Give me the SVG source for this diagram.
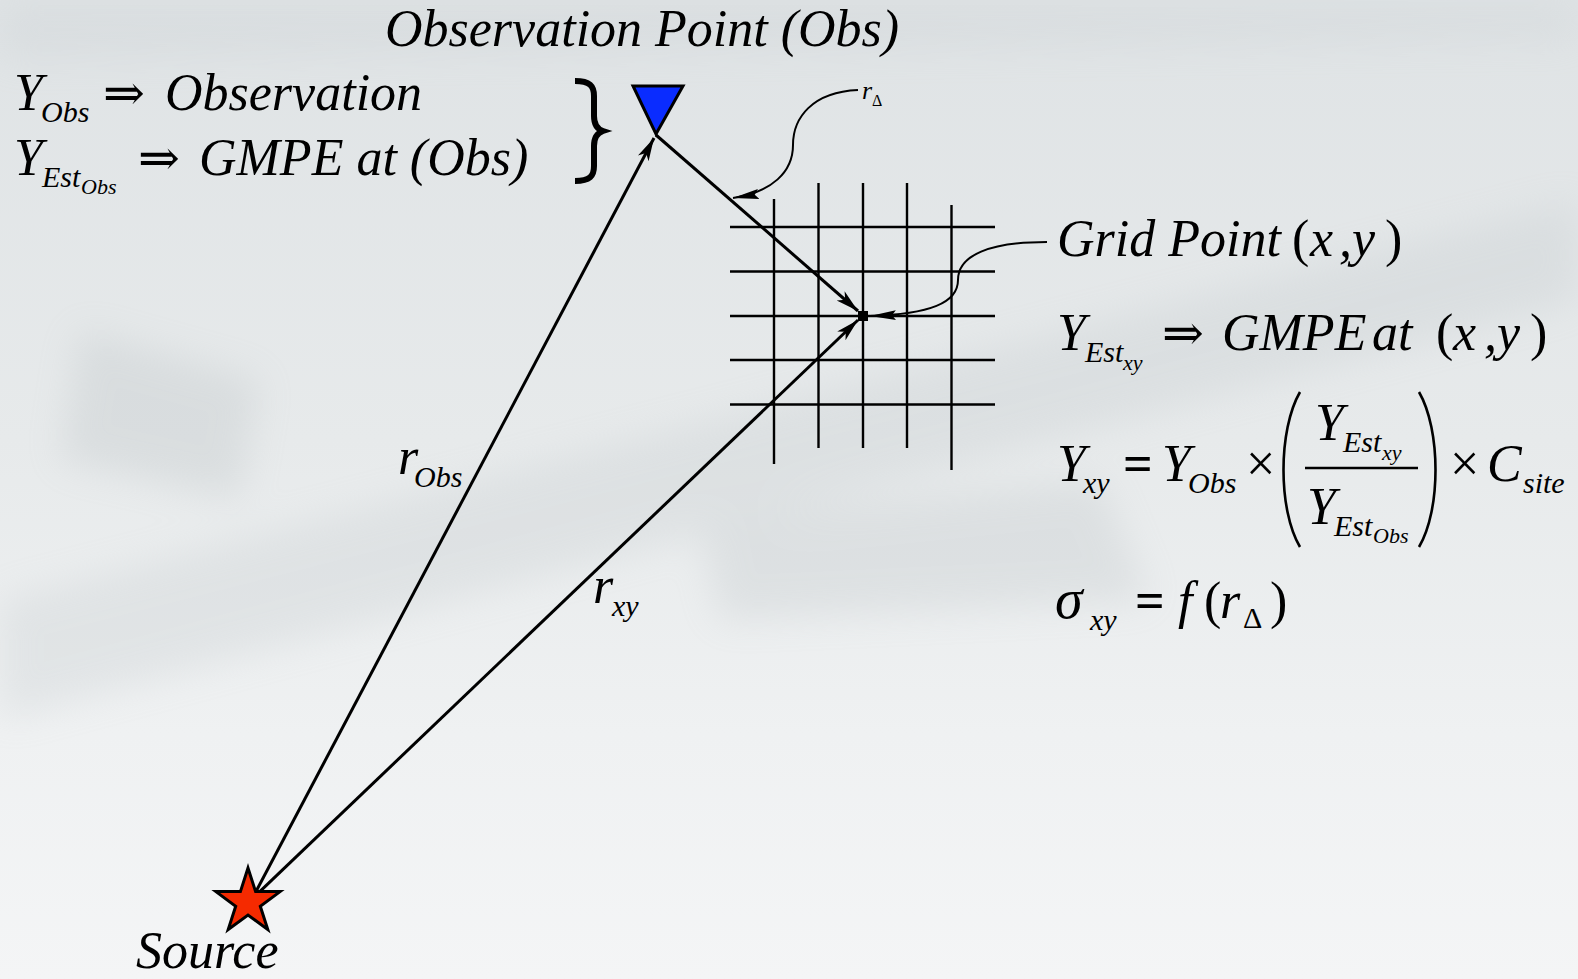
<svg xmlns="http://www.w3.org/2000/svg" width="1578" height="979" viewBox="0 0 1578 979">
<defs>
<linearGradient id="bg" x1="0" y1="0" x2="0" y2="1">
<stop offset="0" stop-color="#dfe3e5"/>
<stop offset="0.45" stop-color="#e7eaeb"/>
<stop offset="0.75" stop-color="#eff1f2"/>
<stop offset="1" stop-color="#f4f5f6"/>
</linearGradient>
<filter id="blur" x="-20%" y="-20%" width="140%" height="140%"><feGaussianBlur stdDeviation="18"/></filter>
<marker id="arr" markerUnits="userSpaceOnUse" markerWidth="26" markerHeight="16" refX="23" refY="8" orient="auto">
<path d="M0,2 L23,8 L0,14 L6,8 Z" fill="#000"/>
</marker>
<marker id="dart" markerUnits="userSpaceOnUse" markerWidth="28" markerHeight="14" refX="26" refY="7" orient="auto">
<path d="M0,2 L26,7 L0,12 L4,7 Z" fill="#000"/>
</marker>
<style>
.t{font-family:"Liberation Serif","DejaVu Serif",serif;font-style:italic;fill:#000}
.m{font-size:52px}
.s{font-size:30px}
.ss{font-size:22px}
.up{font-style:normal}
.ar{font-family:"DejaVu Serif",serif;font-style:normal;font-size:50px}
.eq{font-style:normal;font-weight:bold}
.ln{stroke:#000;stroke-width:3;fill:none}
.gr{stroke:#000;stroke-width:2.4;fill:none}
.ld{stroke:#000;stroke-width:2;fill:none}
</style>
</defs>
<g id="background">
<rect width="1578" height="979" fill="url(#bg)"/>
<g filter="url(#blur)" opacity="0.22">
<path d="M0,600 L1578,200 L1578,300 L0,720 Z" fill="#b8bfc3"/>
<path d="M80,330 L260,380 L240,500 L60,460 Z" fill="#aab2b6"/>
<path d="M700,520 L1100,480 L1150,600 L720,620 Z" fill="#aeb6ba"/>
<path d="M0,0 L1578,0 L1578,40 L0,60 Z" fill="#c4cacd"/>
</g>
</g>
<g id="grid">
<line class="gr" x1="774" y1="199" x2="774" y2="464"/>
<line class="gr" x1="818.5" y1="183" x2="818.5" y2="448"/>
<line class="gr" x1="863" y1="183" x2="863" y2="448"/>
<line class="gr" x1="907" y1="183" x2="907" y2="448"/>
<line class="gr" x1="951.5" y1="205" x2="951.5" y2="470"/>
<line class="gr" x1="730" y1="227" x2="995" y2="227"/>
<line class="gr" x1="730" y1="271.5" x2="995" y2="271.5"/>
<line class="gr" x1="730" y1="316" x2="995" y2="316"/>
<line class="gr" x1="730" y1="360" x2="995" y2="360"/>
<line class="gr" x1="730" y1="404.5" x2="995" y2="404.5"/>
</g>
<g id="connectors">
<path class="ln" d="M252,899 L654,138" marker-end="url(#arr)"/>
<path class="ln" d="M252,899 L858,320" marker-end="url(#arr)"/>
<path class="ln" d="M656,135 L858,311" marker-end="url(#arr)"/>
<path class="ld" d="M858,90 C812,92 793,118 793,145 C793,172 772,192 733,198" marker-end="url(#dart)"/>
<path class="ld" d="M1047,242 C990,242 958,255 958,280 C958,303 930,314 870,316" marker-end="url(#dart)"/>
</g>
<g id="grid-point">
<rect x="858" y="311" width="10" height="10" fill="#000"/>
</g>
<g id="observation-point">
<polygon points="633,86 683,86 656,134" fill="#0a2cff" stroke="#000" stroke-width="3" stroke-linejoin="miter"/>
<text class="t m" x="385" y="46">Observation Point (Obs)</text>
</g>
<g id="source">
<polygon points="248,868 255.6,891.6 280.1,891.6 260.3,906.2 267.8,929.5 248,915 228.2,929.5 235.7,906.2 215.9,891.6 240.4,891.6" fill="#f52a00" stroke="#000" stroke-width="3" stroke-linejoin="miter"/>
<text class="t m" x="136" y="968">Source</text>
</g>
<g id="legend">
<text class="t m" x="14" y="110">Y</text>
<text class="t s" x="41" y="122">Obs</text>
<text class="ar" x="103" y="110">⇒</text>
<text class="t m" x="165" y="110">Observation</text>
<text class="t m" x="14" y="175">Y</text>
<text class="t s" x="42" y="187">Est</text>
<text class="t ss" x="81" y="194">Obs</text>
<text class="ar" x="138" y="175">⇒</text>
<text class="t m" x="199" y="175">GMPE at (Obs)</text>
<path d="M575,81 C590,81 594,86 594,96 L594,116 C594,124 597,129 603,131 C597,133 594,138 594,146 L594,166 C594,176 590,181 575,181" fill="none" stroke="#000" stroke-width="6"/>
</g>
<g id="distance-labels">
<text class="t m" x="398" y="474">r</text>
<text class="t s" x="414" y="487">Obs</text>
<text class="t m" x="593" y="603">r</text>
<text class="t s" x="612" y="616">xy</text>
<text class="t" style="font-size:26px" x="862" y="99">r</text>
<text class="t up" style="font-size:16px" x="872" y="106">Δ</text>
</g>
<g id="equations">
<text class="t m" x="1057" y="256">Grid Point</text>
<text class="t m up" x="1292" y="256">(</text>
<text class="t m" x="1310" y="256">x</text>
<text class="t m" x="1339" y="256">,</text>
<text class="t m" x="1352" y="256">y</text>
<text class="t m up" x="1385" y="256">)</text>

<text class="t m" x="1057" y="350">Y</text>
<text class="t s" x="1085" y="362">Est</text>
<text class="t ss" x="1123" y="370">xy</text>
<text class="ar" x="1162" y="350">⇒</text>
<text class="t m" x="1222" y="350">GMPE</text>
<text class="t m" x="1372" y="350">at</text>
<text class="t m up" x="1436" y="350">(</text>
<text class="t m" x="1453" y="350">x</text>
<text class="t m" x="1484" y="350">,</text>
<text class="t m" x="1497" y="350">y</text>
<text class="t m up" x="1530" y="350">)</text>

<text class="t m" x="1057" y="481">Y</text>
<text class="t s" x="1083" y="493">xy</text>
<text class="t m eq" x="1123" y="481">=</text>
<text class="t m" x="1162" y="481">Y</text>
<text class="t s" x="1188" y="493">Obs</text>
<text class="t m up" x="1246" y="481">×</text>
<path d="M1300,392 C1278,430 1278,510 1300,547" fill="none" stroke="#000" stroke-width="2.6"/>
<text class="t m" x="1315" y="440">Y</text>
<text class="t s" x="1343" y="452">Est</text>
<text class="t ss" x="1382" y="460">xy</text>
<line x1="1305" y1="468" x2="1418" y2="468" stroke="#000" stroke-width="2.4"/>
<text class="t m" x="1307" y="524">Y</text>
<text class="t s" x="1334" y="536">Est</text>
<text class="t ss" x="1373" y="543">Obs</text>
<path d="M1419,392 C1441,430 1441,510 1419,547" fill="none" stroke="#000" stroke-width="2.6"/>
<text class="t m up" x="1450" y="481">×</text>
<text class="t m" x="1487" y="481">C</text>
<text class="t s" x="1523" y="493">site</text>

<text class="t m" style="font-size:56px" x="1055" y="618">σ</text>
<text class="t s" x="1090" y="630">xy</text>
<text class="t m eq" x="1135" y="618">=</text>
<text class="t m" x="1178" y="618">f</text>
<text class="t m up" x="1204" y="618">(</text>
<text class="t m" x="1220" y="618">r</text>
<text class="t s up" x="1243" y="628">Δ</text>
<text class="t m up" x="1270" y="618">)</text>
</g>
</svg>
